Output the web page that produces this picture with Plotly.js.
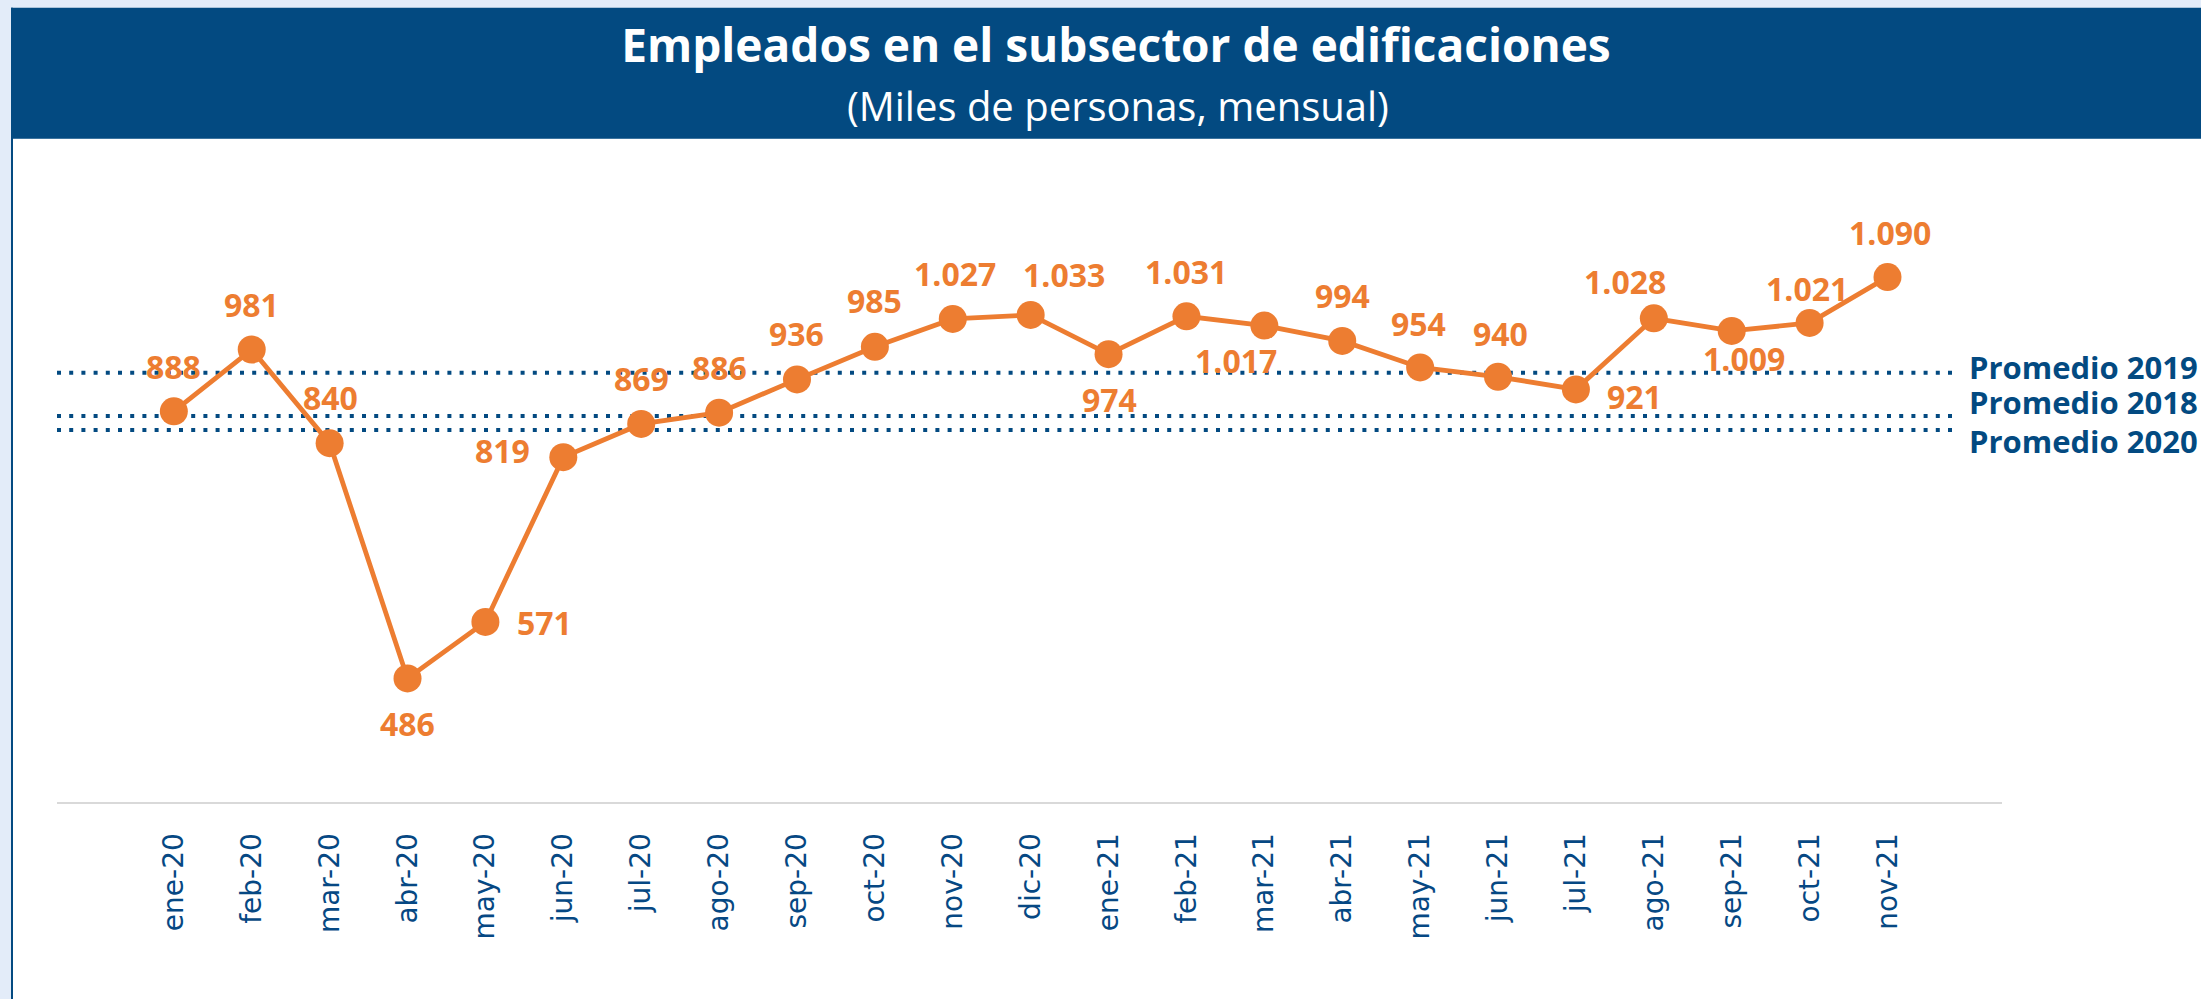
<!DOCTYPE html>
<html>
<head>
<meta charset="utf-8">
<script src="https://cdn.plot.ly/plotly-3.0.1.min.js"></script>
<style>
  html, body { margin: 0; padding: 0; background: #E3ECF9; }
  #chart { width: 2201px; height: 999px; }
</style>
</head>
<body>
<div id="chart"></div>
<script>
// ---- Data ----
const months = ['ene-20','feb-20','mar-20','abr-20','may-20','jun-20','jul-20','ago-20','sep-20','oct-20','nov-20','dic-20',
                'ene-21','feb-21','mar-21','abr-21','may-21','jun-21','jul-21','ago-21','sep-21','oct-21','nov-21'];
const employed = [888, 981, 840, 486, 571, 819, 869, 886, 936, 985, 1027, 1033,
                  974, 1031, 1017, 994, 954, 940, 921, 1028, 1009, 1021, 1090];
const averageLabels = ['Promedio 2019', 'Promedio 2018', 'Promedio 2020'];
const averageValues = [946, 881, 860];

// ---- Label placement (style, pixel offsets: [dx, dy up]) ----
const labelOffsets = [
  [0,45],[0,45],[1,46],[0,-45],[59,-1],[-61,7],[0,45],[0,45],[0,46],[0,46],[2,45],[33,40],
  [1,-45],[0,45],[-28,-35],[0,45],[-2,44],[2,43],[59,-7],[-29,37],[12,-28],[-3,34],[2,45]
];
const avgLabelShift = [6, 14, -11];

// ---- Layout geometry ----
const W = 2201, H = 999;
const M = {l: 57, r: 199, t: 204, b: 197};
const PW = W - M.l - M.r, PH = H - M.t - M.b;
const px = x => (x - M.l) / PW;
const py = y => (H - M.b - y) / PH;

const ORANGE = '#ED7D31';
const NAVY = '#034A81';
const TEXTBLUE = '#064883';

function fmt(v) {
  return String(v).replace(/\B(?=(\d{3})+(?!\d))/g, '.');
}

const trace = {
  type: 'scatter',
  mode: 'lines+markers',
  x: months,
  y: employed,
  line: {color: ORANGE, width: 4.8},
  marker: {color: ORANGE, size: 28},
  hoverinfo: 'skip',
  cliponaxis: false
};

const shapes = [
  // white body
  {type:'rect', xref:'paper', yref:'paper', x0: px(11), x1: px(W + 5), y0: py(H + 5), y1: py(138.7),
   fillcolor:'#FFFFFF', line:{width:0}, layer:'below'},
  // banner
  {type:'rect', xref:'paper', yref:'paper', x0: px(11), x1: px(W + 5), y0: py(138.7), y1: py(7.7),
   fillcolor: NAVY, line:{width:0}, layer:'below'},
  // left border line
  {type:'rect', xref:'paper', yref:'paper', x0: px(11), x1: px(13), y0: py(H + 5), y1: py(7.7),
   fillcolor: NAVY, line:{width:0}, layer:'below'}
];

averageValues.forEach(v => {
  shapes.push({type:'line', xref:'paper', yref:'y', x0: 0, x1: px(1960), y0: v, y1: v,
    line:{color: NAVY, width: 4, dash: '4px,8.2px'}, layer:'below'});
});

const annotations = [];
employed.forEach((v, i) => {
  annotations.push({
    x: months[i], y: v, xref:'x', yref:'y',
    text: '<b>' + fmt(v) + '</b>', showarrow: false,
    xanchor:'center', yanchor:'middle',
    xshift: labelOffsets[i][0], yshift: labelOffsets[i][1],
    font: {family:'Open Sans, sans-serif', size: 32, color: ORANGE}
  });
});
averageValues.forEach((v, i) => {
  annotations.push({
    x: px(1967), y: v, xref:'paper', yref:'y',
    text: '<b>' + averageLabels[i] + '</b>', showarrow: false,
    xanchor:'left', yanchor:'middle', yshift: avgLabelShift[i],
    font: {family:'Open Sans, sans-serif', size: 31, color: NAVY}
  });
});
// subtitle
annotations.push({
  xref:'paper', yref:'paper', x: px(1118), y: py(105),
  text: '(Miles de personas, mensual)', showarrow:false,
  xanchor:'center', yanchor:'middle',
  font: {family:'Open Sans, sans-serif', size: 40, color:'#FFFFFF'}
});

const layout = {
  width: W, height: H,
  margin: M,
  paper_bgcolor: '#E3ECF9',
  plot_bgcolor: 'rgba(0,0,0,0)',
  showlegend: false,
  title: {
    text: '<b>Empleados en el subsector de edificaciones</b>',
    font: {family:'Open Sans, sans-serif', size: 46, color:'#FFFFFF'},
    xref:'container', yref:'container',
    x: 1116 / W, xanchor:'center',
    y: 1 - 46 / H, yanchor:'middle'
  },
  xaxis: {
    type:'category',
    range: [-1.5, 23.47],
    showline: true, linecolor:'#D9D9D9', linewidth: 2,
    showgrid: false, zeroline: false, ticks: '',
    tickangle: -90,
    ticklabelstandoff: 18,
    tickfont: {family:'DejaVu Sans, sans-serif', size: 28, color: TEXTBLUE},
    fixedrange: true
  },
  yaxis: {
    range: [300, 1200], visible: false, showgrid: false, zeroline: false, fixedrange: true
  },
  shapes: shapes,
  annotations: annotations
};

Plotly.newPlot('chart', [trace], layout, {displayModeBar: false, staticPlot: true});
</script>
</body>
</html>
